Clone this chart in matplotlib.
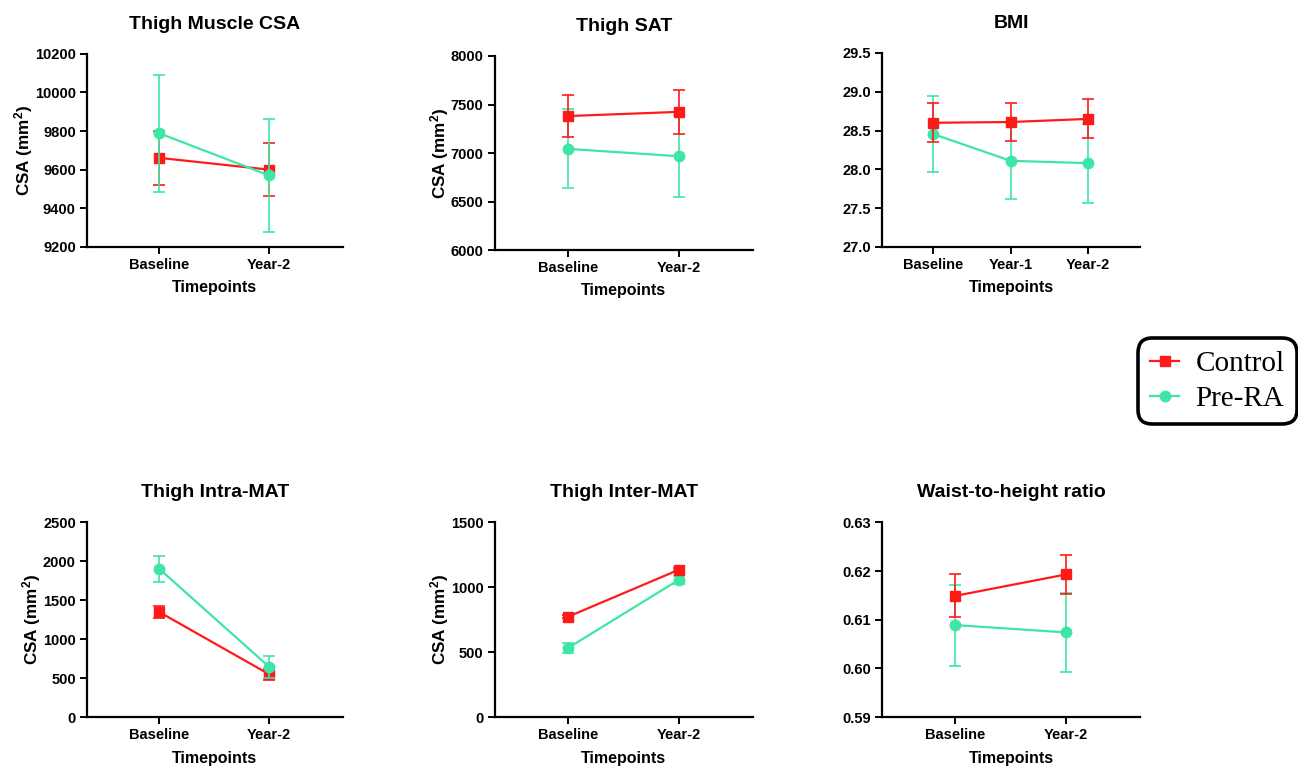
import numpy as np
import matplotlib
matplotlib.use("Agg")
import matplotlib.pyplot as plt
from matplotlib.lines import Line2D

plt.rcParams['font.family'] = ['Liberation Sans', 'DejaVu Sans']
plt.rcParams['font.weight'] = 'bold'
plt.rcParams['mathtext.fontset'] = 'custom'
plt.rcParams['mathtext.rm'] = 'Liberation Sans:bold'
plt.rcParams['mathtext.it'] = 'Liberation Sans:bold'
plt.rcParams['mathtext.bf'] = 'Liberation Sans:bold'
plt.rcParams['mathtext.default'] = 'rm'

RED = '#FF1A1A'
GREEN = '#3EE6A6'

# --- data ---
titles = ['Thigh Muscle CSA', 'Thigh SAT', 'BMI',
          'Thigh Intra-MAT', 'Thigh Inter-MAT', 'Waist-to-height ratio']
timepoints2 = ['Baseline', 'Year-2']
timepoints3 = ['Baseline', 'Year-1', 'Year-2']

muscle_ctrl = [9661, 9600]
muscle_ctrl_err = [139, 138]
muscle_pre = [9788, 9570]
muscle_pre_err = [303, 292]

sat_ctrl = [7381, 7424]
sat_ctrl_err = [218, 226]
sat_pre = [7043, 6967]
sat_pre_err = [408, 422]

bmi_ctrl = [28.60, 28.61, 28.65]
bmi_ctrl_err = [0.25, 0.245, 0.25]
bmi_pre = [28.455, 28.11, 28.08]
bmi_pre_err = [0.485, 0.49, 0.51]

intra_ctrl = [1348, 550]
intra_ctrl_err = [80, 72]
intra_pre = [1902, 645]
intra_pre_err = [168, 140]

inter_ctrl = [772, 1134]
inter_ctrl_err = [12, 12]
inter_pre = [531, 1056]
inter_pre_err = [38, 32]

whr_ctrl = [0.6149, 0.6193]
whr_ctrl_err = [0.0044, 0.0040]
whr_pre = [0.6089, 0.6074]
whr_pre_err = [0.0083, 0.0081]

ylims = [(9200, 10200), (6000, 8000), (27.0, 29.5),
         (0, 2500), (0, 1500), (0.59, 0.63)]
ysteps = [200, 500, 0.5, 500, 500, 0.01]
yfmts = ['{:.0f}', '{:.0f}', '{:.1f}', '{:.0f}', '{:.0f}', '{:.2f}']
ylabels = ['CSA (mm$^2$)', 'CSA (mm$^2$)', '',
           'CSA (mm$^2$)', 'CSA (mm$^2$)', '']

panels = [
    (timepoints2, muscle_ctrl, muscle_ctrl_err, muscle_pre, muscle_pre_err),
    (timepoints2, sat_ctrl, sat_ctrl_err, sat_pre, sat_pre_err),
    (timepoints3, bmi_ctrl, bmi_ctrl_err, bmi_pre, bmi_pre_err),
    (timepoints2, intra_ctrl, intra_ctrl_err, intra_pre, intra_pre_err),
    (timepoints2, inter_ctrl, inter_ctrl_err, inter_pre, inter_pre_err),
    (timepoints2, whr_ctrl, whr_ctrl_err, whr_pre, whr_pre_err),
]
green_on_top = [True, False, False, True, False, False]

# axes rectangles in figure fractions
rects = [
    [0.067, 0.678, 0.197, 0.252],
    [0.381, 0.674, 0.199, 0.253],
    [0.6795, 0.678, 0.199, 0.253],
    [0.067, 0.065, 0.197, 0.254],
    [0.381, 0.065, 0.199, 0.254],
    [0.6795, 0.065, 0.199, 0.254],
]

fig = plt.figure(figsize=(12.98, 7.67), dpi=100)

for i, (cats, c, ce, p, pe) in enumerate(panels):
    ax = fig.add_axes(rects[i])
    x = np.arange(len(cats))
    zc, zp = (3, 4) if green_on_top[i] else (4, 3)
    ax.errorbar(x, c, yerr=ce, color=RED, marker='s', markersize=7,
                lw=1.6, elinewidth=1.2, capsize=4.5, capthick=1.2, zorder=zc,
                clip_on=False)
    ax.errorbar(x, p, yerr=pe, color=GREEN, marker='o', markersize=7.5,
                lw=1.6, elinewidth=1.2, capsize=4.5, capthick=1.2, zorder=zp,
                clip_on=False)
    n = len(cats)
    ax.set_xlim(-0.66, n - 1 + 0.67)
    lo, hi = ylims[i]
    ax.set_ylim(lo, hi)
    ticks = np.arange(lo, hi + ysteps[i] / 2, ysteps[i])
    ax.set_yticks(ticks)
    ax.set_yticklabels([yfmts[i].format(t) for t in ticks])
    ax.set_xticks(x)
    ax.set_xticklabels(cats)
    ax.spines['top'].set_visible(False)
    ax.spines['right'].set_visible(False)
    for s in ['left', 'bottom']:
        ax.spines[s].set_linewidth(1.6)
    ax.tick_params(width=1.4, length=5, labelsize=10.5, pad=3)
    for lab in ax.get_xticklabels() + ax.get_yticklabels():
        lab.set_fontweight('bold')
    ax.set_xlabel('Timepoints', fontsize=11.5, fontweight='bold', labelpad=6)
    if ylabels[i]:
        ax.set_ylabel(ylabels[i], fontsize=12.3, fontweight='bold', labelpad=0)
    ax.set_title(titles[i], fontsize=14, fontweight='bold', pad=18)

handles = [
    Line2D([], [], color=RED, marker='s', markersize=7, lw=1.6),
    Line2D([], [], color=GREEN, marker='o', markersize=7.5, lw=1.6),
]
leg = fig.legend(handles, ['Control', 'Pre-RA'], loc='center right',
                 bbox_to_anchor=(0.999, 0.503), borderaxespad=0,
                 prop={'family': 'Liberation Serif', 'size': 21, 'weight': 'normal'},
                 handlelength=1.0, handletextpad=0.55, labelspacing=0.3,
                 borderpad=0.42, fancybox=True, framealpha=1)
leg.get_frame().set_edgecolor('black')
leg.get_frame().set_linewidth(2.6)
leg.get_frame().set_boxstyle('round', pad=0.0, rounding_size=0.5)

fig.savefig('out.png', dpi=100)
